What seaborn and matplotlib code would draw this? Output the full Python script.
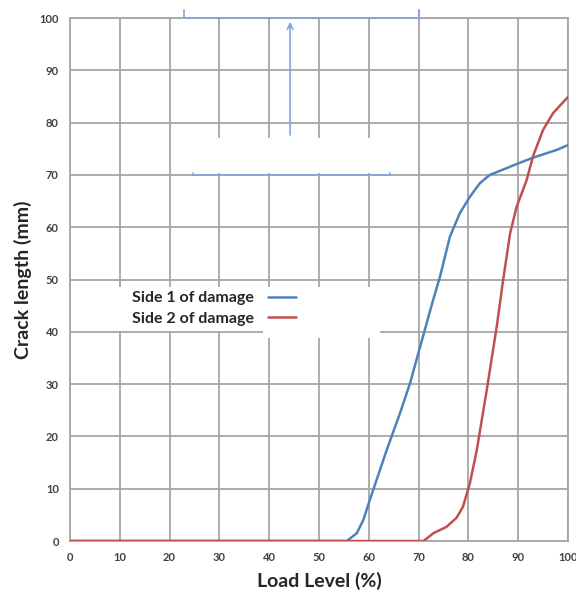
import pandas as pd
import matplotlib.pyplot as plt
import seaborn as sns
from matplotlib.patches import Rectangle

# values
load_side1 = [0, 50, 55.6, 57.6, 58.9, 60.2, 63.6, 66.3, 68.3, 70.3, 72.9, 74.3, 76.3,
              78.3, 80.3, 82.3, 84.3, 87.7, 90.0, 93.0, 97.8, 100]
crack_side1 = [0, 0, 0, 1.5, 4.0, 7.8, 17.4, 24.5, 30.2, 37.1, 46.0, 50.5, 58.2,
               62.7, 65.8, 68.4, 70.0, 71.3, 72.2, 73.3, 74.8, 75.7]

load_side2 = [0, 50, 71.0, 73.0, 75.6, 77.6, 78.9, 80.3, 81.7, 83.7, 85.7, 87.0, 88.4,
              89.7, 91.7, 93.0, 95.0, 97.0, 100]
crack_side2 = [0, 0, 0, 1.5, 2.7, 4.4, 6.5, 11.0, 17.4, 28.9, 41.0, 50.0, 58.9,
               63.9, 69.0, 73.6, 78.6, 81.8, 84.9]

series_names = ['Side 1 of damage', 'Side 2 of damage']
series_colors = ['#4F81BD', '#C0504D']
ticks = list(range(0, 101, 10))

df = pd.concat([
    pd.DataFrame({'load': load_side1, 'crack': crack_side1, 'side': series_names[0]}),
    pd.DataFrame({'load': load_side2, 'crack': crack_side2, 'side': series_names[1]}),
])

sns.set_style('white')
plt.rcParams['font.family'] = ['Lato', 'DejaVu Sans']

fig = plt.figure(figsize=(5.76, 5.97), dpi=100)
ax = fig.add_axes([0.1215, 0.0938, 0.8645, 0.876])

sns.lineplot(data=df, x='load', y='crack', hue='side', palette=series_colors,
             linewidth=1.8, ax=ax, legend=False, zorder=5, sort=False)

ax.set_xlim(0, 100)
ax.set_ylim(0, 100)
ax.set_xticks(ticks)
ax.set_yticks(ticks)
ax.grid(True, color='#a6a6a6', linewidth=1.3)
ax.set_axisbelow(True)
for sp in ax.spines.values():
    sp.set_color('#a6a6a6')
    sp.set_linewidth(1.3)
ax.tick_params(length=0, labelsize=8, labelcolor='#404040', pad=8)
for lab in ax.get_xticklabels() + ax.get_yticklabels():
    lab.set_fontweight('bold')

ax.set_xlabel('Load Level (%)', fontsize=14, fontweight='bold', labelpad=6)
ax.set_ylabel('Crack length (mm)', fontsize=14, fontweight='bold', labelpad=5)

# white patches left over in the original (covering the grid)
ax.add_patch(Rectangle((23.1, 70.3), 45.2, 6.8, facecolor='white', edgecolor='none', zorder=2))
ax.add_patch(Rectangle((9.6, 40.2), 52.6, 8.4, facecolor='white', edgecolor='none', zorder=2))
ax.add_patch(Rectangle((38.8, 38.8), 23.4, 9.8, facecolor='white', edgecolor='none', zorder=2))

# leftover blue annotation strokes
blue = '#7FA7D9'
ax.plot([22.9, 70.1], [100, 100], color=blue, lw=1.2, clip_on=False, zorder=3)
ax.plot([22.9, 22.9], [100, 101.5], color=blue, lw=1.2, clip_on=False, zorder=3)
ax.plot([70.1, 70.1], [100, 101.5], color=blue, lw=1.5, clip_on=False, zorder=3)
ax.annotate('', xy=(44.2, 99.8), xytext=(44.2, 77.1),
            arrowprops=dict(arrowstyle='->', color=blue, lw=1.2), zorder=3)
ax.plot([24.7, 64.3], [70, 70], color=blue, lw=1.2, zorder=3)
ax.plot([24.7, 24.7], [70, 70.4], color=blue, lw=1.2, zorder=3)
ax.plot([64.3, 64.3], [70, 70.4], color=blue, lw=1.2, zorder=3)

handles = [plt.Line2D([], [], color=c, lw=1.8) for c in series_colors]
leg = ax.legend(handles, series_names, loc='upper left', bbox_to_anchor=(124 / 576, 1 - 283 / 597),
                bbox_transform=fig.transFigure, frameon=False, markerfirst=False,
                handlelength=1.7, handletextpad=0.9, labelspacing=0.42, borderpad=0,
                prop={'size': 11.5, 'weight': 'bold'})
leg.set_zorder(6)

fig.savefig('out.png', dpi=100)
